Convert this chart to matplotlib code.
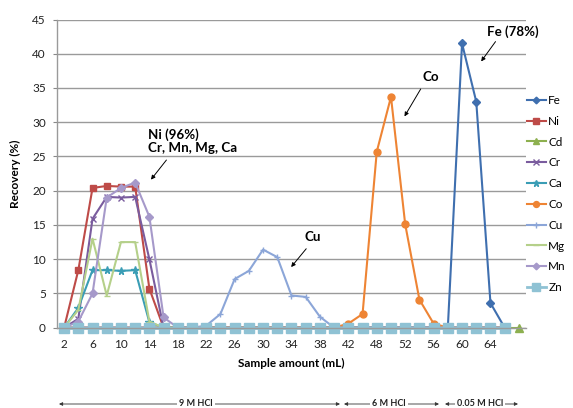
import matplotlib
matplotlib.use("Agg")
import matplotlib.pyplot as plt
import numpy as np

plt.rcParams['font.family'] = ['Lato', 'DejaVu Sans']

# sample amount categories (mL), one per point
sample_ml = [2, 4, 6, 8, 10, 12, 14, 16, 18, 20, 22, 24, 26, 28, 30, 32, 34, 36, 38, 40, 42,
             46, 48, 50, 52, 54, 56, 58, 60, 62, 64, 66, 68]

# recovery (%) per element
fe = [0, 0, 0, 0, 0, 0, 0, 0, 0, 0, 0, 0, 0, 0, 0, 0, 0, 0, 0, 0, 0, 0, 0, 0, 0, 0, 0, 0,
      41.5, 33.0, 3.6, 0]
ni = [0, 8.4, 20.4, 20.7, 20.6, 20.6, 5.7, 0, 0, 0, 0, 0, 0, 0, 0, 0, 0, 0, 0, 0, 0, 0,
      0, 0, 0, 0, 0, 0, 0, 0, 0, 0]
cd = [0, 0, 0, 0, 0, 0, 0, 0, 0, 0, 0, 0, 0, 0, 0, 0, 0, 0, 0, 0, 0, 0, 0, 0, 0, 0, 0, 0,
      0, 0, 0, 0, 0]
cr = [0, 1.3, 15.9, 19.1, 19.0, 19.1, 10.0, 0, 0, 0, 0, 0, 0, 0, 0, 0, 0, 0, 0, 0, 0, 0,
      0, 0, 0, 0, 0, 0, 0, 0, 0, 0]
ca = [0, 2.9, 8.4, 8.4, 8.3, 8.4, 0.8, 0, 0, 0, 0, 0, 0, 0, 0, 0, 0, 0, 0, 0, 0, 0,
      0, 0, 0, 0, 0, 0, 0, 0, 0, 0]
co = [0, 0, 0, 0, 0, 0, 0, 0, 0, 0, 0, 0, 0, 0, 0, 0, 0, 0, 0, 0, 0.6, 2.0, 25.7, 33.7,
      15.1, 4.1, 0.6, 0, 0, 0, 0, 0]
cu = [0, 0, 0, 0, 0, 0, 0, 0, 0, 0, 0.3, 2.0, 7.1, 8.3, 11.4, 10.3, 4.7, 4.5, 1.6, 0, 0, 0,
      0, 0, 0, 0, 0, 0, 0, 0, 0, 0]
mg = [0, 2.6, 13.0, 4.7, 12.5, 12.5, 0.9, 0, 0, 0, 0, 0, 0, 0, 0, 0, 0, 0, 0, 0, 0, 0,
      0, 0, 0, 0, 0, 0, 0, 0, 0, 0]
mn = [0, 0.9, 5.0, 19.0, 20.4, 21.2, 16.2, 1.5, 0, 0, 0, 0, 0, 0, 0, 0, 0, 0, 0, 0, 0, 0,
      0, 0, 0, 0, 0, 0, 0, 0, 0, 0]
zn = [0, 0, 0, 0, 0, 0, 0, 0, 0, 0, 0, 0, 0, 0, 0, 0, 0, 0, 0, 0, 0, 0, 0, 0, 0, 0, 0, 0,
      0, 0, 0, 0]

series = [
    ("Fe", fe, "#3F6FAF", "D", 4),
    ("Ni", ni, "#BE4B48", "s", 5),
    ("Cd", cd, "#8DB04F", "^", 5.5),
    ("Cr", cr, "#7A5C9E", "x", 5),
    ("Ca", ca, "#3A9DB5", "*", 5.5),
    ("Co", co, "#EE8434", "o", 5),
    ("Cu", cu, "#8CA6D8", "+", 5),
    ("Mg", mg, "#B5D08A", "_", 5),
    ("Mn", mn, "#A699CA", "D", 4),
    ("Zn", zn, "#8FC2D4", "s", 6.5),
]

fig = plt.figure(figsize=(5.73, 4.08), dpi=100)
ax = fig.add_axes([57 / 573, 1 - 327.7 / 408, 469 / 573, 308.2 / 408])

for name, vals, col, mk, ms in series:
    lw = 2.0 if name == "Zn" else 1.5
    ax.plot(np.arange(len(vals)), vals, color=col, marker=mk, markersize=ms,
            lw=lw, mew=1.0, label=name, clip_on=False)

ax.set_xlim(-0.5, len(sample_ml) - 0.5)
ax.set_ylim(0, 45)
ax.set_yticks(np.arange(0, 46, 5))
ax.set_xticks(np.arange(0, len(sample_ml), 2))
ax.set_xticklabels([str(v) for v in sample_ml[::2]][:16] + [""] * (len(sample_ml[::2]) - 16))
ax.tick_params(axis='x', length=0, pad=8, labelsize=8.5, colors='#222222')
ax.tick_params(axis='y', length=3, width=0.8, color='#888888', pad=5, labelsize=8.5,
               labelcolor='#222222')
ax.yaxis.grid(True, color='#9A9A9A', lw=1.0)
ax.set_axisbelow(True)
for s in ['top', 'right']:
    ax.spines[s].set_visible(False)
for s in ['left', 'bottom']:
    ax.spines[s].set_color('#9A9A9A')
    ax.spines[s].set_linewidth(1.0)

ax.set_ylabel("Recovery (%)", fontsize=8.5, fontweight='bold', labelpad=8)
ax.set_xlabel("Sample amount (mL)", fontsize=8.5, fontweight='bold', labelpad=6)

arrow = dict(arrowstyle='-|>', color='black', lw=0.7, mutation_scale=6)
ax.text(5.92, 28.2, "Ni (96%)", fontsize=9.6, fontweight='bold', ha='left', va='center')
ax.text(5.92, 26.3, "Cr, Mn, Mg, Ca", fontsize=9.6, fontweight='bold', ha='left', va='center')
ax.annotate("", xy=(5.99, 21.3), xytext=(7.32, 24.8), arrowprops=arrow)
ax.text(17.5, 13.3, "Cu", fontsize=9.6, fontweight='bold', ha='center', va='center')
ax.annotate("", xy=(15.85, 8.54), xytext=(17.16, 11.84), arrowprops=arrow)
ax.text(25.8, 36.6, "Co", fontsize=9.6, fontweight='bold', ha='center', va='center')
ax.annotate("", xy=(23.85, 30.5), xytext=(25.19, 35.2), arrowprops=arrow)
ax.text(31.55, 43.2, "Fe (78%)", fontsize=9.6, fontweight='bold', ha='center', va='center')
ax.annotate("", xy=(29.23, 38.55), xytext=(30.47, 42.1), arrowprops=arrow)

fig.legend(loc='upper left', bbox_to_anchor=(527 / 573, 1 - 95 / 408), frameon=False,
           fontsize=8.5, handlelength=1.6, handletextpad=0.2, labelspacing=0.83,
           borderaxespad=0, borderpad=0, markerscale=0.85)

# eluent ranges along the bottom
bar_y = 408 - 404
eluents = [("9 M HCl", 59, 340, 196), ("6 M HCl", 344, 439, 389), ("0.05 M HCl", 445, 518, 480)]
for lab, x0, x1, xc in eluents:
    ax.annotate("", xy=(x0, bar_y), xytext=(x1, bar_y), xycoords='figure pixels',
                textcoords='figure pixels',
                arrowprops=dict(arrowstyle='<|-|>', color='#333333', lw=0.6, mutation_scale=5,
                                shrinkA=0, shrinkB=0))
    fig.text(xc / 573, bar_y / 408, lab, fontsize=6.5, fontweight='bold', ha='center', va='center',
             color='#222222', bbox=dict(facecolor='white', edgecolor='none', pad=1.5))

fig.savefig("out.png", dpi=100)
